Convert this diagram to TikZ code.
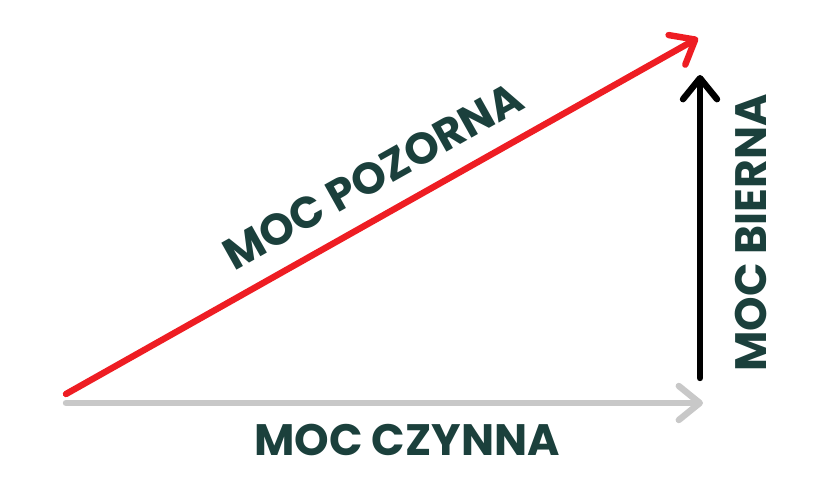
\documentclass[tikz,border=0pt]{standalone}
\usepackage{fontspec}
\setmainfont{Poppins}
\usetikzlibrary{arrows.meta}
\definecolor{mocred}{HTML}{EE1D23}
\definecolor{mocgray}{HTML}{C8C8C8}
\definecolor{mocgreen}{HTML}{1B403C}
\tikzset{
	vec/.style={line width=3.2pt, line cap=round, line join=round,
		-{Straight Barb[length=10.5pt, width=17pt, round]}},
	lbl/.style={text=mocgreen, font=\fontsize{22}{26}\selectfont\bfseries, inner sep=0pt}
}

\begin{document}
\begin{tikzpicture}[x=0.5pt, y=-0.5pt]
		%%%%% START %%%%%
		\useasboundingbox (0, 0) rectangle (840, 480);
		
		\coordinate (start) at (66, 394);
		\coordinate (base) at (66, 403);
		\coordinate (czynna) at (703, 403);
		\coordinate (bottom) at (700, 378);
		\coordinate (bierna) at (700, 75);
		\coordinate (pozorna) at (698, 38);
		
		\draw[vec, color=mocgray] (base) -- (czynna);
		\draw[vec, color=black] (bottom) -- (bierna);
		\draw[vec, color=mocred] (start) -- (pozorna);
		
		\node[lbl] (lczynna) at (407, 440) {MOC CZYNNA};
		\node[lbl, rotate=90] (lbierna) at (751, 233) {MOC BIERNA};
		\node[lbl, rotate=29.3] (lpozorna) at (373, 176) {MOC POZORNA};
		
		%%%%% END %%%%%
	\end{tikzpicture}
\end{document}
